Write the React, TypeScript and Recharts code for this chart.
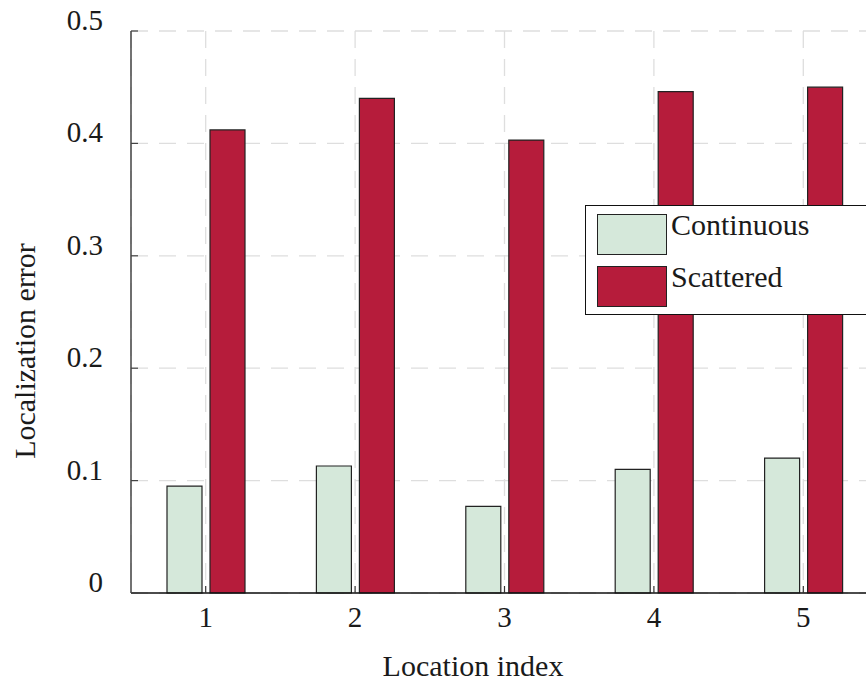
import { BarChart, Bar, XAxis, YAxis, CartesianGrid, Legend, Label } from "recharts";

// Localization error per location, two deployment layouts
const locations = ["1", "2", "3", "4", "5"];
const continuousErr = [0.095, 0.113, 0.077, 0.11, 0.12];
const scatteredErr = [0.412, 0.44, 0.403, 0.446, 0.45];
const yTicks = [0, 0.1, 0.2, 0.3, 0.4, 0.5];

const data = locations.map((loc, i) => ({
  loc,
  continuous: continuousErr[i],
  scattered: scatteredErr[i],
}));

const FONT = '"Liberation Serif", "Times New Roman", serif';
const INK = "#1a1a1a";

function BottomTick({ x, y, payload }: any) {
  return (
    <g>
      <line x1={x} y1={y} x2={x} y2={y - 7} stroke="#333" strokeWidth={1.2} />
      <text x={x} y={y + 34} textAnchor="middle" fontFamily={FONT} fontSize={29} fill={INK}>
        {payload.value}
      </text>
    </g>
  );
}

function TopTick({ x, y }: any) {
  return <line x1={x} y1={y} x2={x} y2={y + 8} stroke="#444" strokeWidth={1.2} />;
}

function LeftTick({ x, y, payload }: any) {
  return (
    <g>
      <line x1={x} y1={y} x2={x + 7} y2={y} stroke="#444" strokeWidth={1.2} />
      <text x={x - 28} y={y - 1} textAnchor="end" fontFamily={FONT} fontSize={29} fill={INK}>
        {String(payload.value)}
      </text>
    </g>
  );
}

function LegendBox({ payload }: any) {
  return (
    <div
      style={{
        border: "1.5px solid #111",
        background: "#fff",
        height: 110,
        boxSizing: "border-box",
        padding: "8px 0 0 11px",
      }}
    >
      {(payload || []).map((p: any) => (
        <div key={p.value} style={{ display: "flex", alignItems: "flex-start", height: 52 }}>
          <span
            style={{
              display: "block",
              width: 70,
              height: 41,
              background: p.color,
              border: "1.5px solid #222",
              boxSizing: "border-box",
            }}
          />
          <span
            style={{
              display: "block",
              marginLeft: 4,
              marginTop: -4,
              lineHeight: "30px",
              fontFamily: FONT,
              fontSize: 30,
              color: INK,
            }}
          >
            {p.value}
          </span>
        </div>
      ))}
    </div>
  );
}

export default function App() {
  return (
    <div
      style={{
        position: "absolute",
        left: 0,
        top: 0,
        width: 866,
        height: 681,
        overflow: "hidden",
        background: "#fff",
      }}
    >
      <BarChart
        width={880}
        height={681}
        data={data}
        margin={{ top: 31, right: 2, bottom: 0, left: 0 }}
        barCategoryGap={36}
        barGap={8}
      >
        <CartesianGrid stroke="#dedede" strokeDasharray="17 11" strokeWidth={1.3} />
        <XAxis
          dataKey="loc"
          height={88}
          axisLine={{ stroke: "#111", strokeWidth: 1.5 }}
          tickLine={false}
          tickSize={0}
          tickMargin={0}
          tick={<BottomTick />}
          interval={0}
        >
          <Label
            content={() => (
              <text x={473} y={676} textAnchor="middle" fontFamily={FONT} fontSize={30} fill={INK}>
                Location index
              </text>
            )}
          />
        </XAxis>
        <XAxis
          xAxisId="top"
          dataKey="loc"
          orientation="top"
          height={0}
          axisLine={{ stroke: "#444", strokeWidth: 1.5 }}
          tickLine={false}
          tickSize={0}
          tickMargin={0}
          tick={<TopTick />}
          interval={0}
        />
        <YAxis
          width={131}
          domain={[0, 0.5]}
          ticks={yTicks}
          axisLine={{ stroke: "#444", strokeWidth: 1.5 }}
          tickLine={false}
          tickSize={0}
          tickMargin={0}
          tick={<LeftTick />}
          interval={0}
        >
          <Label
            content={() => (
              <text
                x={35}
                y={351}
                transform="rotate(-90 35 351)"
                textAnchor="middle"
                fontFamily={FONT}
                fontSize={30}
                fill={INK}
              >
                Localization error
              </text>
            )}
          />
        </YAxis>
        <Legend
          layout="horizontal"
          align="center"
          verticalAlign="middle"
          wrapperStyle={{ left: 585, top: 205, width: 300 }}
          content={<LegendBox />}
        />
        <Bar
          dataKey="continuous"
          name="Continuous"
          fill="#d5e8da"
          stroke="#222"
          strokeWidth={1.2}
          isAnimationActive={false}
        />
        <Bar
          dataKey="scattered"
          name="Scattered"
          fill="#b61c3b"
          stroke="#222"
          strokeWidth={1.2}
          isAnimationActive={false}
        />
      </BarChart>
    </div>
  );
}
